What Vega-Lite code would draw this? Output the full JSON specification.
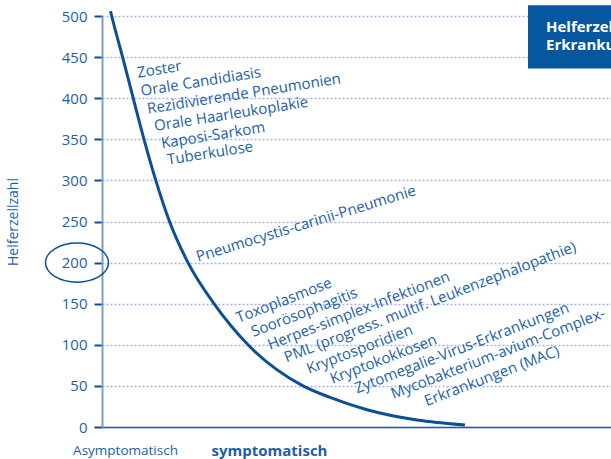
{
  "$schema": "https://vega.github.io/schema/vega-lite/v6.json",
  "width": 509,
  "height": 411,
  "autosize": {"type": "none"},
  "padding": {"left": 102, "top": 16, "right": 0, "bottom": 32},
  "background": "white",
  "config": {"view": {"stroke": null}, "font": "Open Sans"},
  "datasets": {
    "curve": [
      {"x": 8.5, "y": 506}, {"x": 9.7, "y": 500}, {"x": 20.6, "y": 450}, {"x": 31.2, "y": 400},
      {"x": 42, "y": 350}, {"x": 53.8, "y": 300}, {"x": 67.5, "y": 250}, {"x": 86, "y": 200},
      {"x": 112, "y": 150}, {"x": 146, "y": 100}, {"x": 201, "y": 50},
      {"x": 228, "y": 36}, {"x": 265, "y": 21}, {"x": 315, "y": 8.5}, {"x": 363, "y": 2.4}
    ],
    "labels": [
      {"group": 1, "x": 36, "y": 425, "label": "Zoster"},
      {"group": 1, "x": 39.5, "y": 402.7, "label": "Orale Candidiasis"},
      {"group": 1, "x": 46, "y": 381, "label": "Rezidivierende Pneumonien"},
      {"group": 1, "x": 53, "y": 360, "label": "Orale Haarleukoplakie"},
      {"group": 1, "x": 60, "y": 339, "label": "Kaposi-Sarkom"},
      {"group": 1, "x": 66, "y": 319, "label": "Tuberkulose"},
      {"group": 2, "x": 96, "y": 201, "label": "Pneumocystis-carinii-Pneumonie"},
      {"group": 3, "x": 136.5, "y": 126.5, "label": "Toxoplasmose"},
      {"group": 3, "x": 151.5, "y": 109.5, "label": "Soorösophagitis"},
      {"group": 3, "x": 168, "y": 93.7, "label": "Herpes-simplex-Infektionen"},
      {"group": 3, "x": 184.5, "y": 78.5, "label": "PML (progress. multif. Leukenzephalopathie)"},
      {"group": 3, "x": 207, "y": 64.5, "label": "Kryptosporidien"},
      {"group": 3, "x": 230.5, "y": 52.3, "label": "Kryptokokkosen"},
      {"group": 3, "x": 255, "y": 40.8, "label": "Zytomegalie-Virus-Erkrankungen"},
      {"group": 3, "x": 291.3, "y": 34, "label": "Mycobakterium-avium-Complex-"},
      {"group": 3, "x": 324.7, "y": 25.2, "label": "Erkrankungen (MAC)"}
    ],
    "box": [{"x": 426, "x2": 530, "y": 513, "y2": 436}],
    "boxtext": [{"x": 444, "y": 480, "title": "Helferzellzahl und\nErkrankungen"}],
    "ellipse": [{"x": -25, "y": 200}]
  },
  "encoding": {
    "x": {
      "field": "x", "type": "quantitative",
      "scale": {"domain": [0, 509], "nice": false},
      "title": null,
      "axis": {
        "values": [23, 167],
        "labelExpr": "datum.value < 100 ? 'Asymptomatisch' : 'symptomatisch'",
        "ticks": false, "grid": false,
        "domainColor": "#1a5a9e", "domainWidth": 1.5,
        "labelPadding": 16, "labelFlush": false, "labelOverlap": false,
        "labelFont": "Open Sans",
        "labelFontSize": {"condition": {"test": "datum.value > 100", "value": 15}, "value": 13.5},
        "labelFontWeight": {"condition": {"test": "datum.value > 100", "value": "bold"}, "value": "normal"},
        "labelColor": "#1d5fa5"
      }
    },
    "y": {
      "field": "y", "type": "quantitative",
      "scale": {"domain": [0, 500], "nice": false},
      "title": "Helferzellzahl",
      "axis": {
        "values": [0, 50, 100, 150, 200, 250, 300, 350, 400, 450, 500],
        "domainColor": "#76a0cc", "domainWidth": 2,
        "tickColor": "#0d4f95", "tickWidth": 2, "tickSize": 8,
        "labelPadding": 7, "labelFontSize": 15, "labelColor": "#1d5fa5",
        "labelFont": "Open Sans", "labelFlush": false,
        "grid": true, "gridColor": "#a7b1de", "gridDash": [2, 2], "gridWidth": 1.5,
        "titleFontSize": 14, "titleFontWeight": "normal", "titleColor": "#1d5fa5",
        "titleFont": "Open Sans", "titlePadding": 41
      }
    }
  },
  "layer": [
    {
      "data": {"name": "curve"},
      "mark": {"type": "line", "interpolate": "monotone", "color": "#0b4f97", "strokeWidth": 3}
    },
    {
      "data": {"name": "labels"},
      "transform": [{"filter": "datum.group == 1"}],
      "mark": {"type": "text", "align": "left", "baseline": "alphabetic", "angle": 351, "fontSize": 15, "color": "#1d5fa5", "font": "Open Sans"},
      "encoding": {"text": {"field": "label"}}
    },
    {
      "data": {"name": "labels"},
      "transform": [{"filter": "datum.group == 2"}],
      "mark": {"type": "text", "align": "left", "baseline": "alphabetic", "angle": 343, "fontSize": 15, "color": "#1d5fa5", "font": "Open Sans"},
      "encoding": {"text": {"field": "label"}}
    },
    {
      "data": {"name": "labels"},
      "transform": [{"filter": "datum.group == 3"}],
      "mark": {"type": "text", "align": "left", "baseline": "alphabetic", "angle": 339, "fontSize": 15, "color": "#1d5fa5", "font": "Open Sans"},
      "encoding": {"text": {"field": "label"}}
    },
    {
      "data": {"name": "box"},
      "mark": {"type": "rect", "color": "#0657a0"},
      "encoding": {"x2": {"field": "x2"}, "y2": {"field": "y2"}}
    },
    {
      "data": {"name": "boxtext"},
      "mark": {"type": "text", "align": "left", "baseline": "alphabetic", "fontSize": 15, "fontWeight": "bold", "color": "white", "lineBreak": "\n", "lineHeight": 18, "font": "Open Sans"},
      "encoding": {"text": {"field": "title"}}
    },
    {
      "data": {"name": "ellipse"},
      "mark": {"type": "point", "shape": "M-1,0A1,0.62,0,0,1,1,0A1,0.62,0,0,1,-1,0Z", "size": 3969, "filled": false, "stroke": "#0b4f97", "strokeWidth": 1.5, "opacity": 1}
    }
  ]
}
